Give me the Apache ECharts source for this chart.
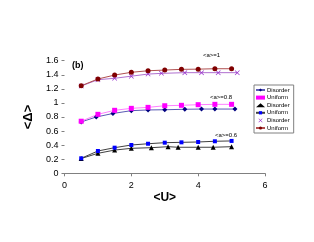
<!DOCTYPE html>
<html><head><meta charset="utf-8">
<script src="https://cdn.jsdelivr.net/npm/echarts@6/dist/echarts.min.js"></script>
<style>html,body{margin:0;padding:0;background:#fff}#c{width:314px;height:242px}</style>
</head><body><div id="c"></div>
<script>
// a=0.8 group
const dis08X = [0.5, 0.95, 1.45, 2.0, 2.5, 3.0, 3.6, 4.1, 4.5, 5.1];
const dis08Y = [0.73, 0.80, 0.85, 0.89, 0.90, 0.903, 0.91, 0.913, 0.913, 0.913];
const uni08X = [0.5, 1.0, 1.5, 2.0, 2.5, 3.0, 3.5, 4.0, 4.5, 5.0];
const uni08Y = [0.74, 0.838, 0.895, 0.923, 0.937, 0.96, 0.966, 0.975, 0.98, 0.98];
// a=0.6 group
const dis06X = [0.5, 1.0, 1.5, 2.0, 2.6, 3.1, 3.4, 4.0, 4.45, 5.0];
const dis06Y = [0.21, 0.284, 0.33, 0.355, 0.364, 0.378, 0.37, 0.37, 0.37, 0.378];
const uni06X = [0.5, 1.0, 1.5, 2.0, 2.5, 3.0, 3.5, 4.0, 4.5, 5.0];
const uni06Y = [0.213, 0.317, 0.364, 0.402, 0.42, 0.435, 0.44, 0.445, 0.455, 0.46];
// a=1 group
const dis1X = [0.5, 1.0, 1.5, 2.0, 2.5, 2.9, 3.6, 4.1, 4.6, 5.17];
const dis1Y = [1.24, 1.33, 1.35, 1.38, 1.41, 1.42, 1.43, 1.43, 1.43, 1.43];
const uni1X = [0.5, 1.0, 1.5, 2.0, 2.5, 3.0, 3.5, 4.0, 4.5, 5.0];
const uni1Y = [1.244, 1.34, 1.396, 1.435, 1.457, 1.467, 1.477, 1.48, 1.486, 1.486];

const legendNames = ['Disorder', 'Uniform', 'Disorder ', 'Uniform ', 'Disorder  ', 'Uniform  '];
const legendLabels = ['Disorder', 'Uniform', 'Disorder', 'Uniform', 'Disorder', 'Uniform'];
const annotations = ['<a>=1', '<a>=0.8', '<a>=0.6'];
const xTicks = [0, 2, 4, 6];

const zip = (xs, ys) => xs.map((x, i) => [x, ys[i]]);
const crossPath = 'path://M0,1L1,0L5,4L9,0L10,1L6,5L10,9L9,10L5,6L1,10L0,9L4,5Z';

const chart = echarts.init(document.getElementById('c'), null, {renderer: 'canvas'});
function mk(name, xs, ys, symbol, size, color, lineColor) {
  return {
    name: name, type: 'line', data: zip(xs, ys), symbol: symbol, symbolSize: size,
    itemStyle: {color: color},
    lineStyle: {color: lineColor, width: 1},
    animation: false, z: 3
  };
}
const labelMap = {};
legendNames.forEach((n, i) => labelMap[n] = legendLabels[i]);
chart.setOption({
  backgroundColor: '#fff',
  animation: false,
  grid: {left: 64.5, right: 49, top: 60.7, bottom: 68.7},
  xAxis: {
    type: 'value', min: 0, max: 6, interval: 2,
    axisLine: {show: true, lineStyle: {color: '#808080', width: 1}},
    axisTick: {show: true, length: 3, lineStyle: {color: '#808080'}},
    splitLine: {show: false},
    axisLabel: {margin: 8, fontSize: 9, color: '#000', fontFamily: 'Liberation Sans',
      formatter: v => xTicks.includes(v) ? String(v) : ''},
    name: '<U>', nameLocation: 'middle', nameGap: 15,
    nameTextStyle: {fontSize: 12, fontWeight: 'bold', color: '#000', fontFamily: 'Liberation Sans'}
  },
  yAxis: {
    type: 'value', min: 0, max: 1.6, interval: 0.2,
    axisLine: {show: false},
    axisTick: {show: true, length: 3, inside: false, lineStyle: {color: '#808080'}},
    splitLine: {show: false},
    axisLabel: {margin: 6, fontSize: 9, color: '#000', fontFamily: 'Liberation Sans',
      formatter: v => String(Math.round(v * 10) / 10)},
    name: '<Δ>', nameLocation: 'middle', nameRotate: 90, nameGap: 24,
    nameTextStyle: {fontSize: 13, fontWeight: 'bold', color: '#000', fontFamily: 'Liberation Sans'}
  },
  legend: {
    show: true, orient: 'vertical', left: 254, top: 85,
    itemWidth: 9, itemHeight: 4, itemGap: 1.6, padding: [2, 4, 2, 1],
    borderColor: '#808080', borderWidth: 1, borderRadius: 0,
    textStyle: {fontSize: 6, lineHeight: 6, color: '#000', fontFamily: 'Liberation Sans', padding: [0, 0, 0, -3]},
    formatter: n => labelMap[n],
    data: [
      {name: legendNames[0]},
      {name: legendNames[1], icon: 'rect'},
      {name: legendNames[2], icon: 'triangle'},
      {name: legendNames[3]},
      {name: legendNames[4], icon: crossPath},
      {name: legendNames[5]}
    ]
  },
  series: [
    mk(legendNames[0], dis08X, dis08Y, 'diamond', 5, '#000080', '#5a5ab4'),
    mk(legendNames[1], uni08X, uni08Y, 'rect', 5, '#ff00ff', '#ff80ff'),
    mk(legendNames[2], dis06X, dis06Y, 'triangle', 5, '#000000', '#404040'),
    mk(legendNames[3], uni06X, uni06Y, 'rect', 4, '#0000ff', '#404040'),
    mk(legendNames[4], dis1X, dis1Y, crossPath, 5, '#9933cc', '#b070d0'),
    mk(legendNames[5], uni1X, uni1Y, 'circle', 5, '#800000', '#b05050')
  ],
  graphic: [
    {type: 'text', left: 72, top: 61, style: {text: '(b)', fontSize: 9, fontWeight: 'bold', fill: '#000', fontFamily: 'Liberation Sans'}},
    {type: 'text', left: 203, top: 52, style: {text: annotations[0], fontSize: 6, fill: '#000', fontFamily: 'Liberation Sans'}},
    {type: 'text', left: 210, top: 94, style: {text: annotations[1], fontSize: 6, fill: '#000', fontFamily: 'Liberation Sans'}},
    {type: 'text', left: 215, top: 132, style: {text: annotations[2], fontSize: 6, fill: '#000', fontFamily: 'Liberation Sans'}}
  ]
});
</script></body></html>
